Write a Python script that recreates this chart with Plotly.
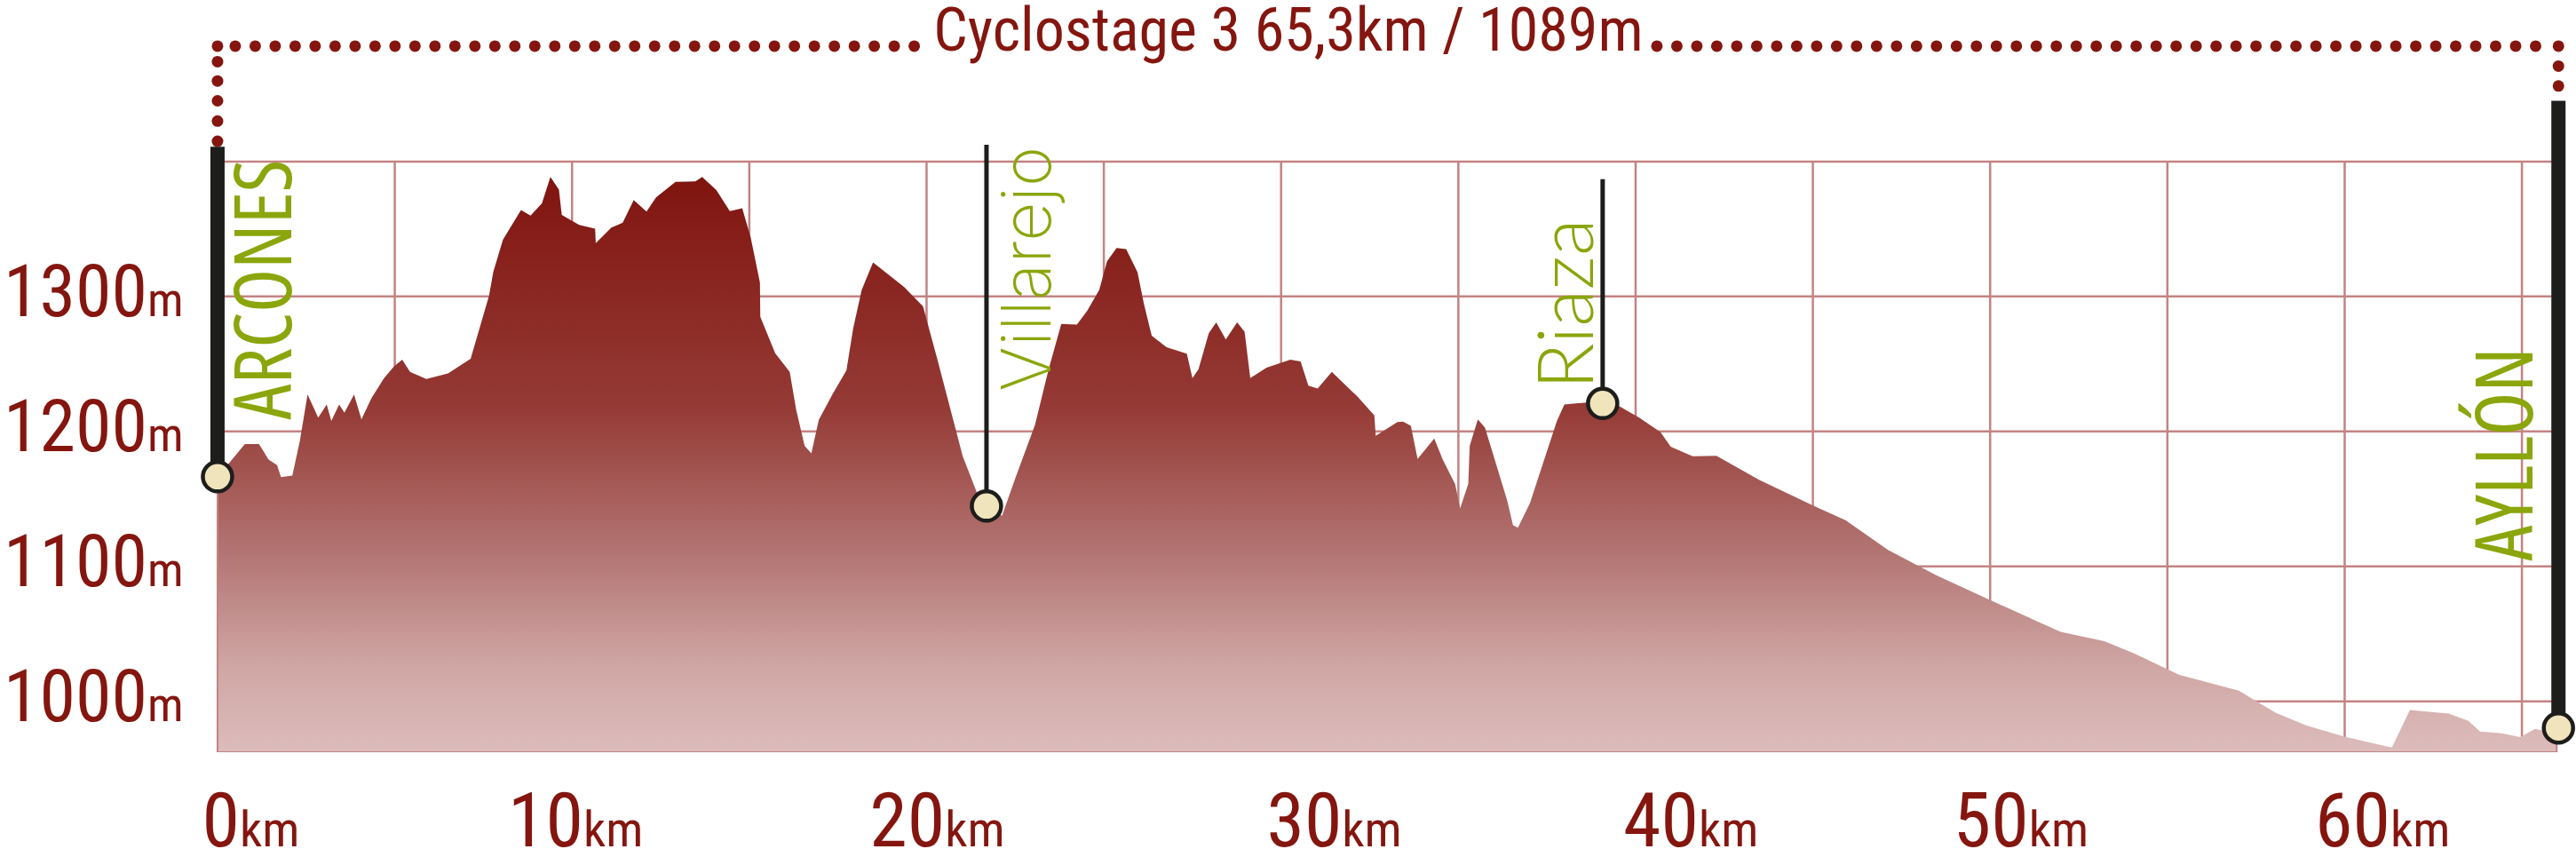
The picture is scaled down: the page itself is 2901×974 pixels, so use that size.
import numpy as np
import plotly.graph_objects as go

# profile: distance (km) / elevation (m)
km = [0, .32, .77, 1.17, 1.44, 1.68, 1.79, 2.11, 2.32, 2.54, 2.84, 3.08, 3.21, 3.43, 3.58, 3.85, 4.06, 4.34, 4.69, 4.98,
      5.21, 5.43, 5.89, 6.5, 7.14, 7.42, 7.66, 7.78, 8.05, 8.56, 8.83, 9.15, 9.39, 9.63, 9.71, 10.2, 10.65, 10.67, 11.11, 11.43,
      11.74, 12.1, 12.37, 12.92, 13.48, 13.67, 14.07, 14.45, 14.8, 15.04, 15.3, 15.31, 15.73, 16.14, 16.32, 16.56, 16.75, 16.96, 17.36, 17.74,
      17.93, 18.17, 18.49, 19.37, 19.9, 20.3, 20.7, 21.02, 21.42, 21.69, 22.13, 22.53, 23.06, 23.44, 23.8, 24.24, 24.53, 24.87, 25.09, 25.36,
      25.63, 25.95, 26.13, 26.35, 26.77, 27.34, 27.5, 27.67, 27.96, 28.17, 28.44, 28.76, 28.97, 29.13, 29.59, 30.26, 30.55, 30.77, 31.03, 31.43,
      32.16, 32.63, 32.67, 33.28, 33.44, 33.66, 33.85, 34.32, 34.56, 34.91, 35.05, 35.28, 35.32, 35.55, 35.75, 36.03, 36.38, 36.54, 36.68, 37.02,
      37.38, 37.78, 37.99, 39.06, 39.51, 40.1, 40.7, 40.99, 41.61, 42.28, 43.48, 44.99, 45.92, 47.12, 48.48, 49.99, 51.99, 53.22, 54.06, 55.34,
      57.02, 58.06, 58.93, 59.97, 61.33, 61.84, 62.93, 63.48, 63.82, 64.44, 64.95, 65.37, 65.98]
elev = [1170.2, 1176.3, 1190.6, 1190.6, 1179.2, 1175.1, 1166.1, 1167.3, 1192.7, 1227.3, 1210.2, 1220, 1207.8, 1220, 1213.9, 1227.3, 1209, 1224.5, 1239.2, 1248.2,
        1253.1, 1244.1, 1238.8, 1242.9, 1253.9, 1278.4, 1300.8, 1318.4, 1342, 1364.1, 1360, 1369, 1388.6, 1379.2, 1360.4, 1353.1, 1350.2, 1339.6, 1351, 1354.7,
        1371.4, 1362.9, 1373.5, 1384.9, 1385.3, 1388.6, 1378.8, 1363.3, 1365.3, 1343.7, 1310.2, 1284.9, 1258, 1244.1, 1216.3, 1189.4, 1183.7, 1208.6, 1228.2, 1245.3,
        1276.3, 1304.9, 1325.3, 1306.9, 1292.7, 1253.9, 1213.1, 1181.6, 1154.7, 1141.6, 1137.6, 1167.3, 1204.9, 1245.7, 1279.6, 1279.2, 1289.4, 1304.9, 1326.1, 1335.9,
        1335.1, 1318, 1294.7, 1271, 1262.4, 1257.6, 1239.6, 1246.1, 1272.7, 1280.8, 1268.2, 1280.8, 1273.9, 1239.6, 1247.3, 1253.1, 1251.8, 1233.9, 1231.8, 1244.1,
        1225.7, 1211.8, 1196.7, 1206.9, 1207.3, 1204.1, 1179.6, 1194.7, 1179.2, 1160.8, 1142.9, 1161.2, 1189.4, 1209, 1202.9, 1178.4, 1148.6, 1130.6, 1128.6, 1146.9,
        1175.1, 1207.8, 1220, 1222.4, 1219.2, 1210.2, 1199.6, 1188.6, 1181.6, 1182, 1164.1, 1145.3, 1134.3, 1112.2, 1093.5, 1075.1, 1051.4, 1044.5, 1035.5, 1019.6,
        1007.8, 991.4, 982, 973.9, 965.7, 993.5, 991, 985.7, 977.6, 976.3, 973.5, 979.6, 976.3]

# towns on the route
stop_names = ["ARCONES", "Villarejo", "Riaza", "AYLLÓN"]
stop_km = [0, 21.69, 39.07, 66.03]
stop_elev = [1166.4, 1144.7, 1220.7, 980.3]
stop_top = [1411, 1412.5, 1387, 1445]
stop_width = [16, 5, 5, 16]

# labels sit a little above their grid lines in the original
elev_label_pos = [1004, 1104, 1204, 1304]
elev_labels = ["1000", "1100", "1200", "1300"]
km_label_pos = [0.94, 10.1, 20.3, 31.5, 41.56, 50.87, 61.07]
km_labels = ["0", "10", "20", "30", "40", "50", "60"]
km_grid = [5, 10, 15, 20, 25, 30, 35, 40, 45, 50, 55, 60, 65]
elev_grid = [1000, 1100, 1200, 1300, 1400]

BASE = 962.3
TOP = 1519.7
BRACKET = 1485.5
KM_END = 66.03

RED = "#84160f"
GREEN = "#8aa60c"
GRID = "#c48383"
DARK = "#1d1d1b"
FONT = "Roboto"

fig = go.Figure()

# grid stops at the 1400 line and the poles, the axes go further so the poles are not cut
grid_x, grid_y = [], []
for g in km_grid:
    grid_x += [g, g, None]
    grid_y += [BASE, 1400, None]
for g in elev_grid:
    grid_x += [0, KM_END, None]
    grid_y += [g, g, None]
fig.add_trace(go.Scatter(x=grid_x, y=grid_y, mode="lines", line=dict(color=GRID, width=2.5)))

fig.add_trace(go.Scatter(
    x=km + [km[-1], km[0]], y=elev + [BASE, BASE], mode="lines", fill="toself",
    line=dict(width=0),
    fillgradient=dict(type="vertical", colorscale=[[0, "#dcbcbb"], [0.15, "#cfa6a4"], [0.35, "#b27472"],
                                                   [0.6, "#953a35"], [1, "#80140f"]]),
))
fig.add_trace(go.Scatter(x=[0, 0, km[-1], km[-1]], y=[elev[0], BASE, BASE, elev[-1]], mode="lines",
                         line=dict(color=GRID, width=2)))

# dotted bracket on top
dots_x = list(np.arange(0.5, 19.8, 0.5633)) + list(np.arange(40.6, 65.6, 0.5633)) + [0, KM_END]
dots_y = [BRACKET] * len(dots_x)
dots_x += [0] * 5 + [KM_END] * 2
dots_y += [1474, 1459.7, 1445, 1430, 1415, 1470.7, 1456]
fig.add_trace(go.Scatter(x=dots_x, y=dots_y, mode="markers", cliponaxis=False,
                         marker=dict(color=RED, size=13)))

for i in range(len(stop_names)):
    fig.add_trace(go.Scatter(x=[stop_km[i], stop_km[i]], y=[stop_elev[i], stop_top[i]], mode="lines",
                             cliponaxis=False, line=dict(color=DARK, width=stop_width[i])))
fig.add_trace(go.Scatter(x=stop_km, y=stop_elev, mode="markers", cliponaxis=False,
                         marker=dict(color="#f0e4bd", size=33, line=dict(color=DARK, width=4.5))))

fig.add_annotation(x=30.2, y=1497, text="Cyclostage 3 65,3km / 1089m", showarrow=False,
                   font=dict(family=FONT, size=68, color=RED))
# town names, rotated
fig.add_annotation(x=1.2, y=1305, text=stop_names[0], textangle=-90, showarrow=False,
                   font=dict(family="Open Sans", size=90, color=GREEN))
fig.add_annotation(x=22.8, y=1320.7, text=stop_names[1], textangle=-90, showarrow=False,
                   font=dict(family="Inter", weight=200, size=77, color=GREEN))
fig.add_annotation(x=37.96, y=1294, text=stop_names[2], textangle=-90, showarrow=False,
                   font=dict(family="Lato", weight=300, size=86, color=GREEN))
fig.add_annotation(x=64.4, y=1183, text=stop_names[3], textangle=-90, showarrow=False,
                   font=dict(family="Open Sans", size=90, color=GREEN))

fig.update_xaxes(range=[-0.5, 66.5], automargin=False, showgrid=False, zeroline=False, showline=False,
                 tickvals=km_label_pos,
                 ticktext=[k + '<span style="font-size:56px">km</span>' for k in km_labels],
                 ticks="outside", ticklen=2, tickcolor="rgba(0,0,0,0)",
                 tickfont=dict(family=FONT, size=86, color=RED))
fig.update_yaxes(range=[BASE, TOP], automargin=False, showgrid=False, zeroline=False, showline=False,
                 tickvals=elev_label_pos,
                 ticktext=[e + '<span style="font-size:54px">m</span>' for e in elev_labels],
                 ticks="outside", ticklen=1, tickcolor="rgba(0,0,0,0)",
                 tickfont=dict(family=FONT, size=82, color=RED))
fig.update_layout(width=2901, height=974, showlegend=False, plot_bgcolor="white", paper_bgcolor="white",
                  margin=dict(l=224.5, r=0.5, t=0, b=126.7))

# the page keeps a default margin otherwise; narrow faces if the font has them
css = "var s=document.createElement('style');s.textContent='text{font-stretch:75%}';document.head.appendChild(s);document.body.style.margin='0';"
fig.write_html("out.html", config=dict(displayModeBar=False), post_script=css)
